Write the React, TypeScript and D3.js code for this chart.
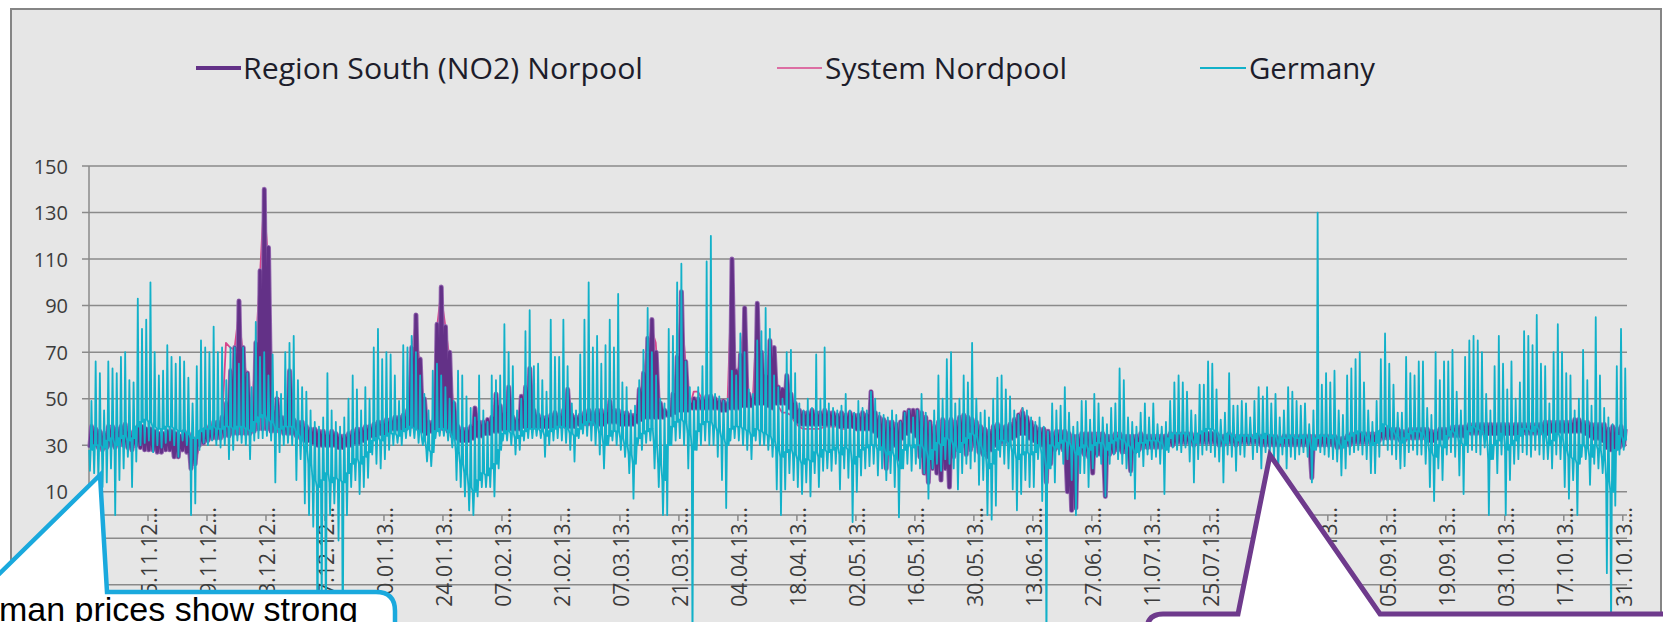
import React from 'react';
import * as d3 from 'd3';

const W = 1663;
const H = 622;

// x-axis labels, one every 14 days starting 01.11.12
const tickLabels = [
  '01.11.12', '15.11.12', '29.11.12', '13.12.12', '27.12.12', '10.01.13', '24.01.13',
  '07.02.13', '21.02.13', '07.03.13', '21.03.13', '04.04.13', '18.04.13', '02.05.13',
  '16.05.13', '30.05.13', '13.06.13', '27.06.13', '11.07.13', '25.07.13', '08.08.13',
  '22.08.13', '05.09.13', '19.09.13', '03.10.13', '17.10.13', '31.10.13',
];
const yTicks = [10, 30, 50, 70, 90, 110, 130, 150];
const gridValues = [-50, -30, -10, 10, 30, 50, 70, 90, 110, 130, 150];

// Germany: daily peak, daily trough and the level in between (EUR/MWh), 01.11.12 - 31.10.13
const deHigh = [
  49, 66, 61, 45, 66, 63, 61, 68, 70, 58, 57, 93, 80, 84,
  100, 70, 60, 62, 73, 68, 65, 68, 66, 59, 48, 64, 75, 72,
  70, 81, 70, 72, 58, 72, 72, 65, 72, 61, 55, 83, 68, 70,
  60, 69, 53, 52, 70, 74, 77, 58, 55, 53, 45, 40, 38, 42,
  61, 45, 40, 38, 42, 50, 60, 54, 45, 55, 50, 72, 80, 67,
  70, 69, 60, 49, 73, 72, 77, 70, 60, 52, 45, 62, 65, 60,
  55, 50, 49, 62, 60, 51, 46, 42, 60, 45, 40, 60, 58, 60,
  82, 70, 64, 45, 50, 79, 88, 64, 65, 58, 53, 84, 68, 68,
  84, 64, 48, 45, 69, 84, 100, 72, 77, 65, 73, 84, 72, 95,
  57, 55, 45, 47, 58, 71, 89, 70, 60, 50, 48, 80, 77, 100,
  108, 66, 55, 49, 55, 64, 109, 120, 52, 51, 49, 50, 62, 60,
  78, 70, 54, 52, 75, 79, 89, 80, 60, 55, 50, 70, 71, 61,
  48, 45, 50, 46, 69, 50, 72, 48, 46, 45, 47, 52, 45, 44,
  49, 46, 45, 53, 50, 44, 43, 42, 45, 43, 40, 44, 45, 42,
  45, 52, 44, 40, 45, 60, 50, 67, 70, 48, 50, 60, 57, 74,
  50, 44, 45, 42, 50, 59, 60, 54, 51, 45, 43, 46, 45, 42,
  40, 42, 38, 36, 48, 45, 47, 55, 44, 38, 40, 49, 49, 41,
  52, 48, 42, 39, 46, 48, 63, 58, 42, 40, 38, 44, 48, 42,
  48, 39, 38, 40, 49, 57, 60, 57, 53, 45, 43, 56, 56, 66,
  65, 54, 41, 44, 61, 47, 47, 49, 48, 42, 49, 55, 51, 55,
  48, 52, 42, 45, 55, 53, 49, 47, 48, 39, 45, 130, 56, 61,
  57, 62, 45, 43, 60, 63, 67, 70, 57, 45, 40, 49, 67, 78,
  65, 56, 44, 44, 68, 61, 60, 66, 66, 46, 43, 70, 58, 66,
  66, 71, 53, 45, 68, 75, 77, 75, 70, 52, 45, 64, 77, 65,
  54, 66, 50, 57, 79, 77, 73, 86, 65, 64, 48, 70, 82, 70,
  61, 60, 45, 50, 71, 58, 47, 85, 60, 46, 42, 39, 64, 80,
  63,
];
const deLow = [
  19, 18, 15, 12, 14, 20, 0, 15, 20, 25, 12, 23, 30, 31,
  32, 27, 30, 29, 31, 32, 30, 25, 32, 30, 0, 5, 28, 31,
  30, 32, 30, 29, 30, 24, 28, 32, 31, 30, 24, 32, 33, 33,
  34, 32, 14, 27, 30, 31, 30, 15, 24, 5, 0, -5, -60, -40,
  -60, 0, 5, -11, -60, 0, 12, 15, 9, 12, 16, 26, 22, 20,
  24, 28, 30, 31, 30, 33, 34, 33, 31, 30, 23, 21, 33, 34,
  34, 32, 29, 15, 12, 8, 2, 0, 8, 12, 12, 12, 8, 20,
  32, 32, 30, 26, 28, 32, 33, 33, 34, 33, 25, 30, 32, 33,
  32, 31, 28, 23, 33, 35, 34, 32, 30, 26, 20, 30, 32, 30,
  28, 25, 18, 7, 30, 28, 31, 32, 20, 12, 0, 0, 30, 32,
  33, 30, 20, -60, 28, 30, 32, 30, 30, 25, 15, 3, 32, 33,
  32, 30, 28, 24, 32, 30, 30, 28, 25, 11, 0, 11, 18, 15,
  12, 9, 14, 8, 18, 12, 19, 20, 19, 22, 11, 20, 16, -3,
  10, 17, 20, 21, 22, 17, 20, 15, 18, 12, -1, 20, 22, 19,
  22, 20, 18, 7, 20, 22, 19, 24, 22, 20, 11, 18, 22, 20,
  23, 13, 15, 0, -2, 4, 25, 22, 20, 11, 2, 9, 15, 12,
  12, 24, 6, -60, 20, 14, 26, 22, 24, 15, 0, 18, 18, 12,
  20, 25, 22, 8, 22, 26, 24, 22, 20, 17, 7, 25, 21, 26,
  24, 25, 22, 9, 27, 29, 28, 27, 29, 23, 14, 24, 26, 28,
  27, 25, 23, 14, 26, 25, 19, 26, 25, 30, 24, 27, 20, 27,
  26, 24, 18, 26, 20, 25, 24, 26, 27, 25, 14, 28, 27, 26,
  25, 24, 23, 17, 20, 26, 27, 28, 26, 24, 18, 18, 25, 30,
  28, 26, 24, 20, 21, 27, 28, 26, 26, 22, 12, 6, 20, 15,
  26, 27, 25, 17, 9, 27, 28, 27, 26, 29, 0, 24, 18, 26,
  0, 15, 22, 24, 27, 26, 25, 28, 26, 24, 24, 20, 26, 24,
  12, 7, 15, 0, 25, 24, 13, 22, 20, 18, -25, -50, 4, 26,
  28,
];
const deBase = [
  28, 30, 30, 29, 32, 33, 30, 33, 34, 32, 33, 38, 40, 41,
  40, 38, 37, 37, 38, 38, 37, 36, 36, 35, 33, 33, 36, 37,
  37, 38, 37, 37, 38, 38, 37, 38, 38, 37, 36, 40, 42, 43,
  41, 40, 37, 37, 38, 38, 38, 35, 33, 28, 22, 15, 12, 15,
  18, 14, 16, 15, 14, 18, 22, 24, 22, 25, 27, 32, 33, 32,
  34, 35, 35, 34, 36, 37, 38, 37, 36, 32, 28, 27, 36, 37,
  37, 36, 33, 27, 22, 18, 12, 10, 15, 18, 17, 20, 22, 28,
  35, 36, 35, 33, 34, 36, 37, 37, 37, 36, 34, 36, 37, 38,
  38, 37, 35, 34, 37, 39, 40, 40, 38, 35, 30, 34, 36, 36,
  33, 30, 26, 22, 33, 35, 36, 37, 30, 22, 15, 30, 38, 40,
  41, 40, 35, 28, 36, 39, 40, 40, 38, 36, 33, 30, 37, 38,
  38, 37, 36, 34, 37, 36, 35, 34, 32, 28, 25, 27, 28, 26,
  24, 22, 24, 23, 27, 25, 28, 27, 28, 29, 26, 29, 28, 22,
  25, 28, 29, 30, 30, 28, 29, 26, 27, 25, 20, 28, 30, 29,
  30, 30, 28, 24, 28, 31, 30, 33, 32, 30, 27, 31, 33, 35,
  34, 30, 27, 20, 22, 28, 32, 32, 30, 27, 24, 26, 27, 26,
  27, 30, 26, 20, 30, 29, 31, 32, 31, 29, 26, 29, 30, 28,
  30, 31, 31, 28, 31, 32, 33, 32, 30, 29, 27, 31, 31, 32,
  32, 32, 31, 28, 33, 35, 35, 35, 35, 33, 31, 35, 36, 37,
  37, 36, 33, 31, 35, 34, 32, 34, 34, 34, 33, 35, 33, 35,
  34, 34, 31, 33, 33, 34, 33, 33, 34, 32, 28, 33, 34, 34,
  33, 34, 31, 29, 32, 34, 35, 36, 35, 33, 30, 31, 36, 39,
  38, 36, 34, 31, 33, 35, 36, 36, 35, 32, 27, 25, 30, 29,
  34, 36, 35, 31, 30, 36, 38, 37, 36, 33, 24, 30, 32, 35,
  28, 30, 32, 34, 37, 37, 36, 38, 36, 34, 30, 32, 35, 33,
  28, 25, 24, 22, 30, 29, 25, 30, 28, 24, 15, 10, 28, 34,
  32,
];

// Region South (NO2): daily high and low
const no2High = [
  38, 37, 36, 35, 38, 38, 37, 38, 39, 36, 35, 38, 38, 37,
  37, 36, 35, 35, 36, 36, 35, 34, 36, 35, 33, 32, 36, 37,
  38, 40, 40, 42, 48, 62, 72, 92, 72, 61, 40, 74, 105, 140,
  115, 45, 50, 42, 42, 62, 41, 40, 40, 38, 37, 37, 36, 36,
  35, 36, 35, 34, 34, 35, 36, 37, 37, 38, 38, 39, 40, 40,
  41, 41, 42, 42, 43, 45, 72, 86, 67, 50, 40, 40, 82, 98,
  81, 70, 48, 38, 37, 37, 38, 46, 40, 40, 41, 42, 52, 47,
  44, 55, 42, 41, 51, 55, 63, 45, 43, 42, 42, 43, 44, 43,
  45, 54, 43, 42, 43, 44, 45, 44, 45, 45, 44, 49, 45, 45,
  44, 44, 43, 43, 54, 61, 76, 84, 70, 48, 45, 44, 52, 68,
  96, 66, 48, 50, 50, 50, 51, 51, 50, 49, 49, 48, 110, 62,
  69, 89, 52, 50, 91, 70, 60, 75, 72, 55, 54, 60, 52, 48,
  45, 44, 44, 45, 44, 44, 45, 44, 44, 43, 44, 43, 44, 43,
  43, 44, 43, 53, 44, 42, 41, 40, 40, 39, 40, 44, 45, 45,
  45, 44, 42, 40, 38, 40, 41, 40, 41, 40, 42, 43, 42, 41,
  40, 38, 37, 36, 38, 39, 38, 38, 39, 41, 43, 44, 42, 40,
  38, 37, 37, 36, 35, 36, 36, 36, 35, 34, 34, 35, 35, 35,
  35, 35, 35, 34, 34, 35, 35, 34, 34, 34, 34, 35, 34, 34,
  34, 34, 34, 34, 35, 35, 35, 35, 35, 35, 34, 35, 35, 35,
  35, 35, 34, 34, 35, 34, 34, 34, 34, 34, 34, 34, 34, 34,
  34, 34, 33, 34, 34, 34, 34, 34, 34, 34, 34, 34, 34, 34,
  34, 34, 33, 33, 34, 35, 35, 35, 35, 35, 35, 35, 36, 37,
  37, 37, 37, 36, 36, 37, 37, 37, 37, 37, 36, 36, 37, 37,
  37, 38, 38, 38, 38, 39, 39, 39, 39, 39, 39, 39, 39, 39,
  39, 39, 39, 39, 39, 39, 39, 39, 39, 40, 40, 40, 40, 40,
  40, 40, 41, 41, 40, 40, 39, 39, 39, 39, 37, 38, 37, 38,
  37,
];
const no2Low = [
  29, 30, 29, 28, 29, 30, 29, 30, 30, 29, 28, 30, 29, 28,
  28, 28, 27, 27, 28, 28, 25, 25, 28, 27, 20, 22, 30, 31,
  32, 33, 33, 33, 34, 34, 35, 35, 35, 35, 35, 36, 37, 37,
  37, 36, 36, 36, 35, 35, 35, 34, 33, 32, 32, 31, 30, 30,
  30, 30, 30, 29, 29, 30, 30, 31, 31, 32, 33, 34, 34, 35,
  35, 36, 37, 37, 37, 37, 38, 38, 37, 36, 35, 36, 37, 37,
  37, 36, 34, 33, 32, 32, 32, 33, 34, 34, 35, 35, 36, 36,
  37, 37, 37, 37, 37, 38, 38, 38, 38, 38, 38, 38, 38, 38,
  38, 38, 38, 38, 39, 39, 39, 39, 39, 39, 39, 40, 40, 40,
  39, 39, 39, 39, 40, 41, 42, 42, 42, 42, 42, 43, 43, 44,
  45, 45, 45, 46, 46, 46, 46, 46, 46, 46, 45, 45, 46, 46,
  46, 47, 47, 47, 48, 48, 48, 47, 46, 48, 48, 48, 46, 42,
  40, 39, 39, 39, 39, 39, 39, 39, 39, 39, 38, 38, 38, 38,
  37, 37, 37, 37, 36, 34, 30, 20, 28, 30, 24, 33, 35, 36,
  34, 25, 18, 14, 20, 18, 15, 20, 12, 25, 28, 30, 26, 28,
  30, 27, 26, 25, 28, 30, 31, 31, 32, 33, 34, 35, 35, 33,
  32, 31, 30, 14, 22, 28, 29, 28, 10, 2, 3, 27, 26, 25,
  18, 26, 26, 8, 26, 27, 28, 27, 27, 19, 27, 28, 29, 29,
  29, 29, 29, 29, 30, 30, 31, 31, 31, 31, 30, 31, 31, 31,
  31, 31, 30, 30, 31, 31, 30, 31, 31, 31, 31, 31, 30, 30,
  30, 30, 30, 30, 30, 30, 30, 30, 30, 30, 16, 30, 30, 30,
  30, 30, 29, 29, 30, 30, 31, 31, 31, 31, 31, 31, 32, 33,
  33, 33, 33, 32, 32, 33, 33, 33, 33, 33, 32, 32, 33, 33,
  33, 34, 34, 34, 34, 35, 35, 35, 35, 35, 35, 35, 35, 35,
  35, 35, 35, 35, 35, 35, 35, 35, 35, 35, 35, 36, 36, 36,
  36, 36, 36, 36, 36, 35, 34, 33, 33, 32, 29, 28, 28, 29,
  30,
];

// System Nordpool: daily price
const systemPrice = [
  30, 31, 30, 29, 30, 31, 30, 31, 31, 30, 29, 30, 30, 29,
  29, 29, 28, 28, 29, 29, 27, 27, 29, 28, 24, 25, 31, 32,
  34, 35, 35, 36, 74, 72, 71, 86, 70, 58, 37, 70, 100, 135,
  110, 41, 46, 39, 38, 58, 38, 37, 36, 34, 33, 32, 32, 31,
  31, 31, 31, 30, 30, 31, 32, 33, 33, 34, 35, 36, 36, 37,
  37, 38, 38, 39, 40, 43, 70, 82, 64, 47, 38, 38, 79, 95,
  82, 68, 45, 35, 34, 34, 35, 40, 37, 37, 38, 39, 48, 42,
  40, 50, 39, 39, 47, 50, 58, 41, 40, 40, 40, 40, 41, 40,
  42, 50, 40, 40, 40, 41, 41, 41, 41, 41, 40, 44, 41, 41,
  40, 40, 40, 40, 50, 58, 72, 80, 74, 45, 43, 42, 48, 64,
  90, 67, 46, 53, 53, 50, 48, 48, 47, 47, 46, 46, 100, 58,
  66, 84, 49, 48, 85, 66, 56, 70, 68, 47, 44, 44, 43, 40,
  38, 37, 37, 37, 37, 37, 38, 38, 38, 38, 37, 37, 38, 38,
  38, 38, 38, 45, 39, 37, 35, 33, 34, 35, 34, 38, 40, 40,
  39, 36, 33, 31, 32, 32, 31, 33, 32, 33, 36, 37, 36, 36,
  35, 33, 32, 31, 33, 34, 34, 35, 36, 38, 42, 46, 40, 38,
  37, 36, 36, 32, 31, 32, 33, 33, 30, 26, 28, 31, 31, 31,
  29, 31, 31, 28, 31, 31, 32, 31, 31, 30, 31, 32, 32, 32,
  32, 32, 32, 32, 32, 32, 33, 33, 33, 33, 32, 33, 33, 33,
  33, 33, 32, 32, 33, 33, 32, 32, 32, 32, 32, 32, 32, 32,
  32, 32, 32, 32, 32, 32, 32, 32, 32, 32, 30, 32, 32, 32,
  32, 32, 31, 31, 32, 33, 33, 33, 33, 33, 33, 33, 34, 35,
  35, 35, 35, 34, 34, 35, 35, 35, 35, 35, 34, 34, 35, 35,
  35, 36, 36, 36, 36, 37, 37, 37, 37, 37, 37, 37, 37, 37,
  37, 37, 37, 37, 37, 37, 37, 37, 37, 37, 37, 38, 38, 38,
  38, 38, 38, 38, 38, 37, 36, 35, 35, 34, 32, 32, 32, 33,
  33,
];

const PURPLE = '#633187';
const PURPLE_EDGE = '#9569b0';
const PINK = '#d8468c';
const CYAN = '#12b1c9';
const FONT = "'Open Sans', 'Noto Sans', sans-serif";

const x = d3.scaleLinear().domain([0, 365]).range([89, 1627]);
const y = d3.scaleLinear().domain([0, 150]).range([515, 166]);

type Pt = [number, number];
const line = d3.line<Pt>().x(p => x(p[0])).y(p => y(p[1]));

const nDays = Math.min(deHigh.length, deLow.length, deBase.length);

// each day: base -> night trough -> base -> daytime peak -> base
const germanyPts: Pt[] = [];
for (let d = 0; d < nDays; d++) {
  germanyPts.push([d + 0.05, deBase[d]], [d + 0.22, deLow[d]], [d + 0.4, deBase[d]], [d + 0.58, deHigh[d]], [d + 0.8, deBase[d]]);
}
const no2Pts: Pt[] = [];
for (let d = 0; d < Math.min(no2High.length, no2Low.length); d++) {
  no2Pts.push([d + 0.2, no2Low[d]], [d + 0.6, no2High[d]]);
}
const systemPts: Pt[] = systemPrice.map((v, d) => [d + 0.5, v] as Pt);

const App: React.FC = () => {
  return (
    <svg width={W} height={H} viewBox={`0 0 ${W} ${H}`}
      style={{ position: 'absolute', left: 0, top: 0, display: 'block', background: '#fff' }}>
      {/* chart area */}
      <rect x={11} y={9} width={1650} height={720} fill="#e6e6e6" stroke="#858585" strokeWidth={2} />

      {/* gridlines */}
      {gridValues.map(v => (
        <line key={v} x1={82} x2={1627} y1={y(v)} y2={y(v)} stroke="#8a8a8a" strokeWidth={1.5} />
      ))}
      {/* axes */}
      <line x1={89} x2={89} y1={y(150)} y2={y(-50)} stroke="#8a8a8a" strokeWidth={1.5} />
      <line x1={89} x2={1627} y1={y(0)} y2={y(0)} stroke="#8a8a8a" strokeWidth={1.5} />
      {tickLabels.map((t, i) => (
        <line key={'tk' + t} x1={x(i * 14)} x2={x(i * 14)} y1={y(0)} y2={y(0) + 6} stroke="#8a8a8a" strokeWidth={1.5} />
      ))}

      {/* y labels */}
      {yTicks.map(v => (
        <text key={'yl' + v} x={68} y={y(v)} textAnchor="end" dominantBaseline="central"
          fontFamily={FONT} fontSize={20} fill="#3c3c3c">{v}</text>
      ))}
      {/* x labels */}
      {tickLabels.map((t, i) => (
        <text key={'xl' + t} transform={`translate(${x(i * 14) + 1},507) rotate(-90)`} textAnchor="end"
          dominantBaseline="central" fontFamily={FONT} fontSize={21} fill="#3c3c3c">{t + '...'}</text>
      ))}

      {/* series */}
      <path d={line(systemPts) || ''} fill="none" stroke={PINK} strokeWidth={1.8} strokeLinejoin="round" />
      <path d={line(no2Pts) || ''} fill="none" stroke={PURPLE_EDGE} strokeWidth={5} strokeLinejoin="round" />
      <path d={line(no2Pts) || ''} fill="none" stroke={PURPLE} strokeWidth={3.2} strokeLinejoin="round" />
      <path d={line(germanyPts) || ''} fill="none" stroke={CYAN} strokeWidth={1.8} strokeLinejoin="round" />

      {/* legend */}
      <line x1={196} x2={241} y1={68} y2={68} stroke={PURPLE} strokeWidth={4} />
      <text x={243} y={67} dominantBaseline="central" fontFamily={FONT} fontSize={30} fill="#1d1d2b"
        textLength={400} lengthAdjust="spacingAndGlyphs">Region South (NO2) Norpool</text>
      <line x1={777} x2={822} y1={68} y2={68} stroke={PINK} strokeWidth={1.6} />
      <text x={825} y={67} dominantBaseline="central" fontFamily={FONT} fontSize={30} fill="#1d1d2b"
        textLength={242} lengthAdjust="spacingAndGlyphs">System Nordpool</text>
      <line x1={1200} x2={1246} y1={68} y2={68} stroke={CYAN} strokeWidth={2} />
      <text x={1249} y={67} dominantBaseline="central" fontFamily={FONT} fontSize={30} fill="#1d1d2b"
        textLength={126} lengthAdjust="spacingAndGlyphs">Germany</text>

      {/* callouts */}
      <path d="M -10,583 L 100,475 L 107,592 L 376,592 Q 395,592 395,611 L 395,720 L -10,720 Z"
        fill="#fff" stroke="#1aa9dd" strokeWidth={4.5} strokeLinejoin="miter" />
      <text x={358} y={621} textAnchor="end" fontFamily="'Liberation Sans', Arial, sans-serif" fontSize={34} fill="#000">
        German prices show strong
      </text>
      <path d="M 1147,720 L 1147,630 Q 1147,614 1163,614 L 1238,614 L 1270,455 L 1380,614 L 1680,614 L 1680,720 Z"
        fill="#fff" stroke="#6e3a8c" strokeWidth={5} strokeLinejoin="miter" />
    </svg>
  );
};

export default App;
